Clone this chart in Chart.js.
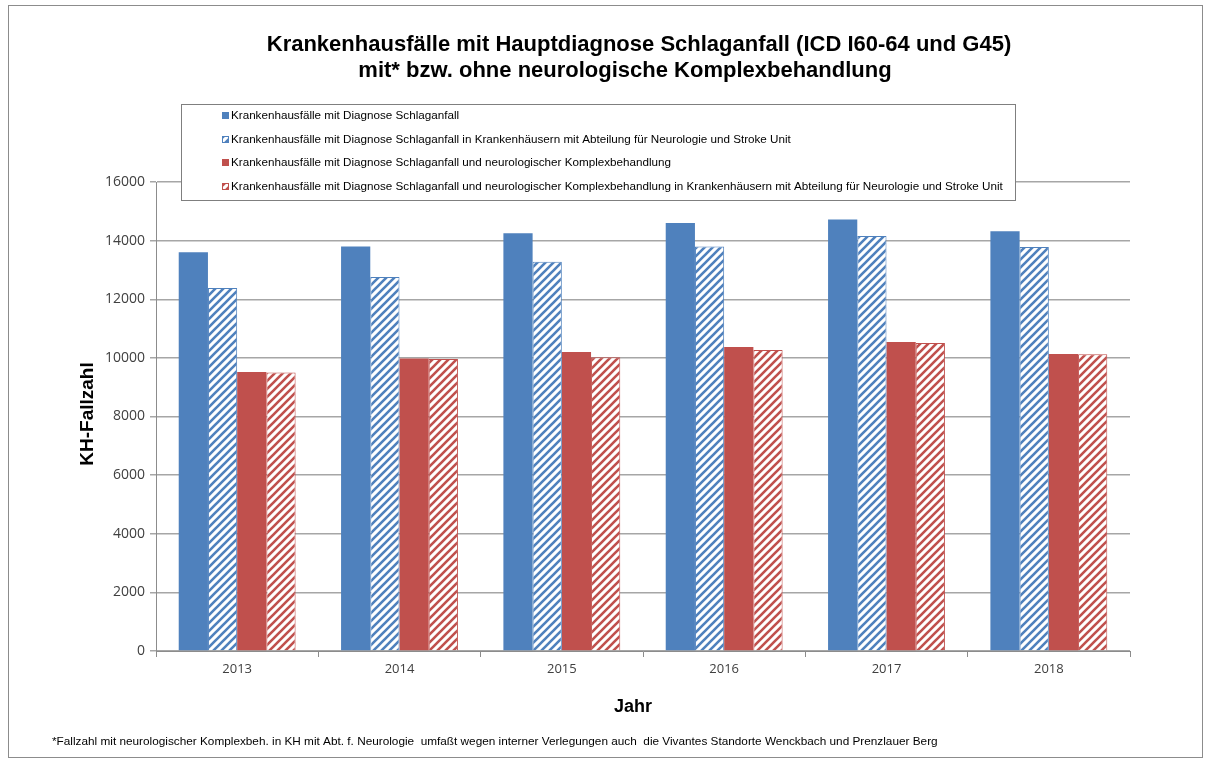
<!DOCTYPE html>
<html>
<head>
<meta charset="utf-8">
<script src="https://cdn.jsdelivr.net/npm/chart.js@4"></script>
<style>
html,body{margin:0;padding:0;background:#fff;}
#wrap{width:1211px;height:766px;position:relative;}
</style>
</head>
<body>
<div id="wrap"><canvas id="c" width="1211" height="766"></canvas></div>
<script>
const years = ['2013', '2014', '2015', '2016', '2017', '2018'];
const faelleGesamt = [13600, 13800, 14250, 14600, 14720, 14320];
const faelleStrokeUnit = [12380, 12760, 13280, 13800, 14160, 13780];
const komplexGesamt = [9520, 9980, 10200, 10370, 10540, 10130];
const komplexStrokeUnit = [9500, 9960, 10020, 10270, 10510, 10120];
const yTicks = [0, 2000, 4000, 6000, 8000, 10000, 12000, 14000, 16000];
const seriesLabels = [
  'Krankenhausfälle mit Diagnose Schlaganfall',
  'Krankenhausfälle mit Diagnose Schlaganfall in Krankenhäusern mit Abteilung für Neurologie und Stroke Unit',
  'Krankenhausfälle mit Diagnose Schlaganfall und neurologischer Komplexbehandlung',
  'Krankenhausfälle mit Diagnose Schlaganfall und neurologischer Komplexbehandlung in Krankenhäusern mit Abteilung für Neurologie und Stroke Unit'
];
const titleLines = [
  'Krankenhausfälle mit Hauptdiagnose Schlaganfall (ICD I60-64 und G45)',
  'mit* bzw. ohne neurologische Komplexbehandlung'
];
const yTitle = 'KH-Fallzahl';
const xTitle = 'Jahr';
const footnote = '*Fallzahl mit neurologischer Komplexbeh. in KH mit Abt. f. Neurologie  umfaßt wegen interner Verlegungen auch  die Vivantes Standorte Wenckbach und Prenzlauer Berg';

const BLUE = '#4F81BD';
const RED = '#C0504D';

function hatch(color) {
  const s = 8;
  const c = document.createElement('canvas');
  c.width = s; c.height = s;
  const g = c.getContext('2d');
  g.fillStyle = '#fff';
  g.fillRect(0, 0, s, s);
  g.strokeStyle = color;
  g.lineWidth = 2.6;
  g.lineCap = 'square';
  g.beginPath();
  g.moveTo(-2, s + 2); g.lineTo(s + 2, -2);
  g.moveTo(-2, 2); g.lineTo(2, -2);
  g.moveTo(s - 2, s + 2); g.lineTo(s + 2, s - 2);
  g.stroke();
  return g.createPattern(c, 'repeat');
}

const ctx0 = document.getElementById('c').getContext('2d');
const blueHatch = hatch(BLUE);
const redHatch = hatch(RED);
const fills = [BLUE, blueHatch, RED, redHatch];
const borders = [BLUE, BLUE, RED, RED];

const decor = {
  id: 'decor',
  afterDraw(chart) {
    const ctx = chart.ctx;
    ctx.save();
    // outer frame
    ctx.strokeStyle = '#8c8c8c';
    ctx.lineWidth = 1;
    ctx.strokeRect(8.5, 5.5, 1194, 752);
    // title
    ctx.fillStyle = '#000';
    ctx.textAlign = 'center';
    ctx.textBaseline = 'middle';
    ctx.font = 'bold 22px "Liberation Sans", Arial, sans-serif';
    ctx.fillText(titleLines[0], 639, 45);
    ctx.fillText(titleLines[1], 625, 71);
    // axis titles
    ctx.font = 'bold 18px "Liberation Sans", Arial, sans-serif';
    ctx.fillText(xTitle, 633, 707);
    ctx.save();
    ctx.translate(88, 414);
    ctx.rotate(-Math.PI / 2);
    ctx.font = 'bold 19px "Liberation Sans", Arial, sans-serif';
    ctx.fillText(yTitle, 0, 0);
    ctx.restore();
    // legend box
    ctx.fillStyle = '#fff';
    ctx.fillRect(181, 104, 834, 96);
    ctx.strokeStyle = '#7f7f7f';
    ctx.strokeRect(181.5, 104.5, 834, 96);
    const rows = [116, 140, 163, 187];
    const fam = '"Liberation Sans Narrow", "Liberation Sans", Arial, sans-serif';
    ctx.font = '11px ' + fam;
    const w = ctx.measureText(seriesLabels[3]).width;
    const fs = 11 * 772 / w;
    ctx.font = fs.toFixed(2) + 'px ' + fam;
    ctx.textAlign = 'left';
    for (let i = 0; i < 4; i++) {
      const y = rows[i];
      ctx.fillStyle = fills[i];
      ctx.fillRect(222, y - 4, 7, 7);
      ctx.strokeStyle = borders[i];
      ctx.strokeRect(222.5, y - 3.5, 6, 6);
      ctx.fillStyle = '#000';
      ctx.fillText(seriesLabels[i], 231, y);
    }
    // footnote
    ctx.font = '11px ' + fam;
    const wf = ctx.measureText(footnote).width;
    const ff = 11 * 886 / wf;
    ctx.font = ff.toFixed(2) + 'px ' + fam;
    ctx.fillText(footnote, 52, 742);
    ctx.restore();
  }
};

new Chart(ctx0, {
  type: 'bar',
  data: {
    labels: years,
    datasets: [0, 1, 2, 3].map(i => ({
      label: seriesLabels[i],
      data: [faelleGesamt, faelleStrokeUnit, komplexGesamt, komplexStrokeUnit][i],
      backgroundColor: fills[i],
      borderColor: borders[i],
      borderWidth: i % 2 === 1 ? 1 : 0,
      categoryPercentage: 0.72,
      barPercentage: 1.0
    }))
  },
  options: {
    responsive: false,
    animation: false,
    layout: { padding: { left: 80, top: 182, right: 81, bottom: 85 } },
    plugins: {
      legend: { display: false },
      title: { display: false },
      tooltip: { enabled: false }
    },
    scales: {
      x: {
        afterFit(s) { s.height = 30; },
        grid: { display: true, drawOnChartArea: false, drawTicks: true, tickLength: 6, color: '#8c8c8c', offset: true },
        border: { display: true, color: '#8c8c8c', width: 1 },
        ticks: { color: '#404040', font: { family: '"Open Sans", "Liberation Sans", sans-serif', size: 13 }, padding: 4 }
      },
      y: {
        min: 0,
        max: 16000,
        afterFit(s) { s.width = 76; },
        afterBuildTicks(s) { s.ticks = yTicks.map(v => ({ value: v })); },
        grid: { color: '#a6a6a6', lineWidth: 1.5, tickLength: 6, drawTicks: true },
        border: { display: true, color: '#8c8c8c', width: 1 },
        ticks: {
          color: '#404040',
          font: { family: '"Open Sans", "Liberation Sans", sans-serif', size: 14 },
          padding: 5,
          callback: v => String(v)
        }
      }
    }
  },
  plugins: [decor]
});
</script>
</body>
</html>
